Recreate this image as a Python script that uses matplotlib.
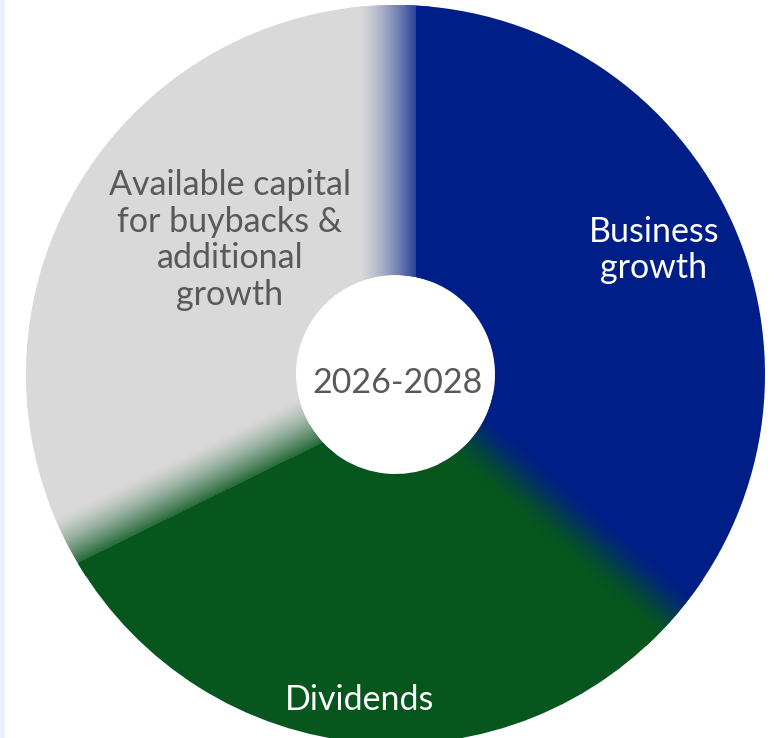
import numpy as np
import matplotlib.pyplot as plt
from matplotlib.patches import Rectangle
from matplotlib.colors import to_rgb

W, H = 779, 738

# capital allocation split, %
segments = ["Business growth", "Dividends", "Available capital"]
shares = [36, 30, 34]
colors = ["#001E88", "#06561E", "#D9D9D9"]
seg_labels = ["Business\ngrowth", "Dividends",
              "Available capital\nfor buybacks &\nadditional\ngrowth"]
label_colors = ["white", "white", "#595959"]
period = "2026-2028"

plt.rcParams['font.family'] = ['Lato', 'DejaVu Sans']

cx, cy = 395.5, H - 374.5
R, r_in = 369.5, 99.5
start = 1.5  # first slice starts this many degrees clockwise from north

fig = plt.figure(figsize=(W / 100, H / 100), dpi=100)
ax = fig.add_axes([0, 0, 1, 1])
ax.pie(shares, colors=colors, startangle=90 - start, counterclock=False,
       radius=R, center=(cx, cy),
       wedgeprops=dict(width=R - r_in, linewidth=0))
ax.set_xlim(0, W)
ax.set_ylim(0, H)
ax.set_aspect('equal')
ax.axis('off')

# slice boundaries, degrees clockwise from north
bounds = start + 360 * np.concatenate([[0], np.cumsum(shares)[:-1]]) / sum(shares)

# soft colour blends across the slice borders
xs = np.arange(W) + 0.5
ys = H - (np.arange(H) + 0.5)
X, Y = np.meshgrid(xs - cx, ys - cy)
dist = np.hypot(X, Y)
cover = np.clip(R - dist + 0.5, 0, 1) * np.clip(dist - r_in + 0.5, 0, 1)
rgb = np.zeros((H, W, 3))
alpha = np.zeros((H, W))


def blend(angle, c_before, c_after, lo, hi, weight):
    a = np.radians(angle)
    s = X * np.sin(a) + Y * np.cos(a)
    d = X * np.cos(a) - Y * np.sin(a)
    m = (s > 0) & (d > lo - 15) & (d < hi + 15)
    x = np.clip((d - lo) / (hi - lo), 0, 1)
    w = weight(d, x)[..., None]
    col = np.array(to_rgb(c_before)) * (1 - w) + np.array(to_rgb(c_after)) * w
    rgb[m] = col[m]
    alpha[m] = 1.0


navy, green, grey = colors
# grey -> blue, hard edge on the blue side
blend(bounds[0] - 1.5, grey, navy, -36, 21,
      lambda d, x: np.where(d >= 21, 1.0, 0.82 * x ** 1.4))
# blue -> green, smooth both sides
blend(bounds[1] + 0.2, navy, green, -34, 24,
      lambda d, x: x * x * (3 - 2 * x))
# green -> grey, hard edge on the green side
blend(bounds[2] + 4.7, green, grey, -29, 22,
      lambda d, x: np.where(d < -29, 0.0, 1 - 0.85 * (1 - x) ** 1.4))

img = np.dstack([rgb, alpha * cover])
ax.imshow(img, extent=(0, W, 0, H), origin='upper', interpolation='nearest',
          zorder=3)

# thin page strip on the left
ax.add_patch(Rectangle((0, 0), 5, H, color="#EAF2FC", lw=0, zorder=0))

label_pos = [(654, 250), (360, 700), (230, 240)]
for text, col, (lx, ly) in zip(seg_labels, label_colors, label_pos):
    ax.text(lx, H - ly, text, color=col, fontsize=24.5, ha='center',
            va='center', linespacing=1.17, zorder=5)

ax.text(398, H - 383, period, color="#595959", fontsize=24.5, ha='center',
        va='center', zorder=5)

fig.savefig("out.png", dpi=100, facecolor="white")
